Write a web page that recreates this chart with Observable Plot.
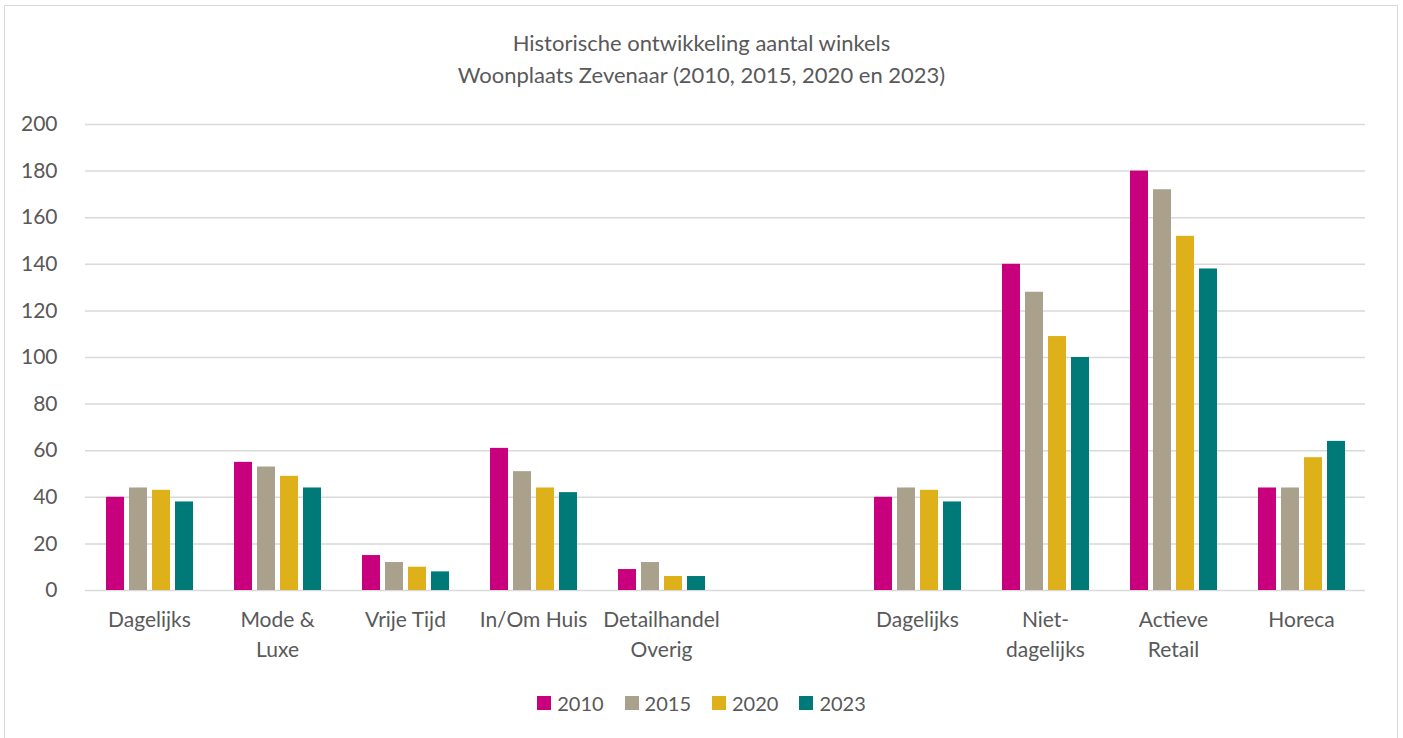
<!DOCTYPE html>
<html>
<head>
<meta charset="utf-8">
<script src="https://cdn.jsdelivr.net/npm/d3@7"></script>
<script src="https://cdn.jsdelivr.net/npm/@observablehq/plot@0.6"></script>
<style>
  body { margin: 0; background: #fff; font-family: Lato, sans-serif; color: #595959; }
  #wrap { position: relative; width: 1403px; height: 738px; overflow: hidden; background: #fff; }
  #frame { position: absolute; left: 4px; top: 5px; width: 1394px; height: 745px; border: 1.5px solid #d9d9d9; box-sizing: border-box; }
  #title { position: absolute; top: 27px; left: 0; width: 1403px; text-align: center; font-size: 22px; line-height: 32px; }
  #chart { position: absolute; top: 100px; left: 0; }
  #legend { position: absolute; top: 690px; left: 0; width: 1403px; display: flex; justify-content: center; gap: 21px; font-size: 20px; line-height: 26px; }
  .item { display: flex; align-items: center; gap: 6px; }
  .sw { width: 14px; height: 14px; display: inline-block; }
</style>
</head>
<body>
<div id="wrap">
  <div id="frame"></div>
  <div id="title"></div>
  <div id="chart"></div>
  <div id="legend"></div>
</div>
<script>
const titleLines = ["Historische ontwikkeling aantal winkels", "Woonplaats Zevenaar (2010, 2015, 2020 en 2023)"];
const categories = ["Dagelijks", "Mode &\nLuxe", "Vrije Tijd", "In/Om Huis", "Detailhandel\nOverig", "", "Dagelijks", "Niet-\ndagelijks", "Actieve\nRetail", "Horeca"];
const years = ["2010", "2015", "2020", "2023"];
const colors = ["#C8007D", "#A9A18C", "#DEB01A", "#007A78"];
const v2010 = [40, 55, 15, 61, 9, null, 40, 140, 180, 44];
const v2015 = [44, 53, 12, 51, 12, null, 44, 128, 172, 44];
const v2020 = [43, 49, 10, 44, 6, null, 43, 109, 152, 57];
const v2023 = [38, 44, 8, 42, 6, null, 38, 100, 138, 64];
const yTicks = [0, 20, 40, 60, 80, 100, 120, 140, 160, 180, 200];

const series = [v2010, v2015, v2020, v2023];
const rows = [];
categories.forEach((c, i) => {
  years.forEach((y, j) => rows.push({key: i, year: y, value: series[j][i]}));
});

document.getElementById("title").innerHTML = titleLines.map(t => `<div>${t}</div>`).join("");

const chart = Plot.plot({
  width: 1403,
  height: 570,
  marginLeft: 82,
  marginRight: 35,
  marginTop: 24,
  marginBottom: 80,
  style: {fontFamily: "Lato, sans-serif", fontSize: "21px", color: "#595959", background: "transparent"},
  fx: {domain: d3.range(categories.length), padding: 0, label: null},
  x: {domain: years, paddingInner: 0.23, paddingOuter: 0.87, axis: null},
  y: {domain: [0, 200], label: null},
  color: {domain: years, range: colors},
  marks: [
    Plot.gridY(yTicks, {stroke: "#d9d9d9", strokeOpacity: 1, strokeWidth: 1.5}),
    Plot.barY(rows, {fx: "key", x: "year", y: "value", fill: "year"}),
    Plot.axisY(yTicks, {tickSize: 0, tickPadding: 28, label: null, fill: "#595959", fontSize: 21}),
    Plot.axisFx({anchor: "bottom", tickSize: 0, tickPadding: 15, lineHeight: 1.43, label: null, fill: "#595959", fontSize: 21, tickFormat: i => categories[i]})
  ]
});
document.getElementById("chart").appendChild(chart);

document.getElementById("legend").innerHTML = years.map((y, j) =>
  `<div class="item"><span class="sw" style="background:${colors[j]}"></span><span>${y}</span></div>`).join("");
</script>
</body>
</html>
